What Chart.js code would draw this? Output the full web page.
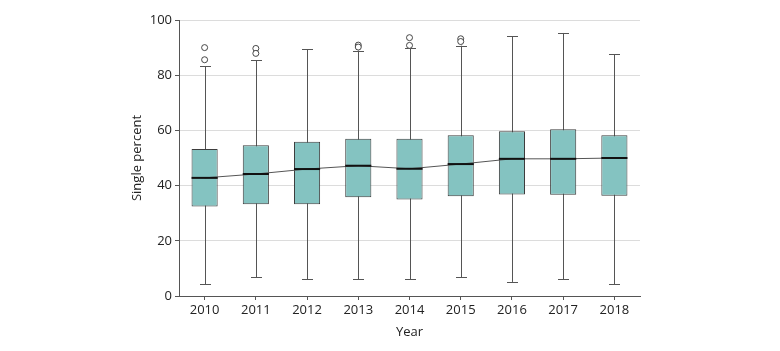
<!DOCTYPE html>
<html>
<head>
<meta charset="utf-8">
<script src="https://cdn.jsdelivr.net/npm/chart.js@4.4.1/dist/chart.umd.min.js"></script>
<style>
html,body{margin:0;padding:0;background:#fff;}
canvas{display:block;}
</style>
</head>
<body>
<canvas id="c" width="780" height="351"></canvas>
<script>
const years = ['2010','2011','2012','2013','2014','2015','2016','2017','2018'];
const whiskerLow  = [4.2, 6.8, 6.0, 6.0, 6.0, 6.8, 5.1, 6.0, 4.2];
const q1          = [32.4, 33.2, 33.2, 35.8, 35.0, 36.1, 36.8, 36.7, 36.3];
const median      = [42.8, 44.2, 46.0, 47.2, 46.1, 47.8, 49.7, 49.7, 50.0];
const q3          = [53.3, 54.6, 55.9, 57.0, 57.0, 58.2, 59.7, 60.4, 58.2];
const whiskerHigh = [83.3, 85.4, 89.4, 88.9, 89.7, 90.7, 94.2, 95.3, 87.6];
const outlierYear  = ['2010','2010','2011','2011','2013','2013','2014','2014','2015','2015'];
const outlierValue = [90.0, 85.6, 89.7, 87.9, 90.9, 90.2, 93.6, 90.8, 93.2, 92.2];
const yTicks = [0, 20, 40, 60, 80, 100];

const FONT = "'Open Sans', 'Noto Sans', sans-serif";
const TEXT = '#222';
const AXIS = '#555';

const boxPlugin = {
  id: 'boxParts',
  beforeDatasetsDraw(chart) {
    const ctx = chart.ctx;
    const y = chart.scales.y;
    const meta = chart.getDatasetMeta(2);
    ctx.save();
    ctx.strokeStyle = AXIS;
    ctx.lineWidth = 1;
    meta.data.forEach((bar, i) => {
      const x = Math.round(bar.x) + 0.5;
      const yl = y.getPixelForValue(whiskerLow[i]);
      const yh = y.getPixelForValue(whiskerHigh[i]);
      const cap = 5.5;
      ctx.beginPath();
      ctx.moveTo(x, yh); ctx.lineTo(x, yl);
      ctx.moveTo(x - cap, Math.round(yh) + 0.5); ctx.lineTo(x + cap, Math.round(yh) + 0.5);
      ctx.moveTo(x - cap, Math.round(yl) + 0.5); ctx.lineTo(x + cap, Math.round(yl) + 0.5);
      ctx.stroke();
    });
    ctx.restore();
  },
  afterDatasetsDraw(chart) {
    const ctx = chart.ctx;
    const y = chart.scales.y;
    const meta = chart.getDatasetMeta(2);
    ctx.save();
    ctx.strokeStyle = '#111';
    ctx.lineWidth = 2;
    meta.data.forEach((bar, i) => {
      const ym = y.getPixelForValue(median[i]);
      const half = bar.width / 2;
      ctx.beginPath();
      ctx.moveTo(bar.x - half, ym); ctx.lineTo(bar.x + half, ym);
      ctx.stroke();
    });
    ctx.restore();
  }
};

new Chart(document.getElementById('c'), {
  type: 'bar',
  data: {
    labels: years,
    datasets: [
      {
        type: 'line',
        data: median,
        borderColor: '#555',
        borderWidth: 1,
        pointRadius: 0,
        fill: false,
        tension: 0
      },
      {
        type: 'line',
        showLine: false,
        data: outlierYear.map((yr, i) => ({x: yr, y: outlierValue[i]})),
        pointRadius: 3,
        pointStyle: 'circle',
        pointBackgroundColor: '#fff',
        pointBorderColor: '#333',
        pointBorderWidth: 0.9
      },
      {
        type: 'bar',
        data: q1.map((v, i) => [v, q3[i]]),
        backgroundColor: '#84C3C1',
        borderColor: '#3d3d3d',
        borderWidth: 1,
        borderSkipped: false,
        categoryPercentage: 1,
        barPercentage: 0.51
      }
    ]
  },
  options: {
    responsive: false,
    animation: false,
    events: [],
    layout: { padding: { left: 120, right: 140, top: 20, bottom: 0 } },
    plugins: { legend: { display: false }, tooltip: { enabled: false } },
    scales: {
      x: {
        type: 'category',
        offset: true,
        grid: { display: true, drawOnChartArea: false, offset: false, tickLength: 4, tickColor: AXIS, color: AXIS },
        border: { display: true, color: AXIS, width: 1 },
        ticks: { font: { family: FONT, size: 13 }, color: TEXT, padding: 2, maxRotation: 0 },
        title: { display: true, text: 'Year', font: { family: FONT, size: 13 }, color: TEXT, padding: { top: 0, bottom: 11 } },
        afterFit(s) { s.height = 55; }
      },
      y: {
        min: 0,
        max: 100,
        afterBuildTicks(s) { s.ticks = yTicks.map(v => ({ value: v })); },
        grid: { color: '#dcdcdc', lineWidth: 1, tickLength: 4, tickColor: AXIS },
        border: { display: true, color: AXIS, width: 1 },
        ticks: { font: { family: FONT, size: 13 }, color: TEXT, padding: 3 },
        title: { display: true, text: 'Single percent', font: { family: FONT, size: 13 }, color: TEXT, padding: { top: 9, bottom: 0 } },
        afterFit(s) { s.width = 59; }
      }
    }
  },
  plugins: [boxPlugin]
});
</script>
</body>
</html>
